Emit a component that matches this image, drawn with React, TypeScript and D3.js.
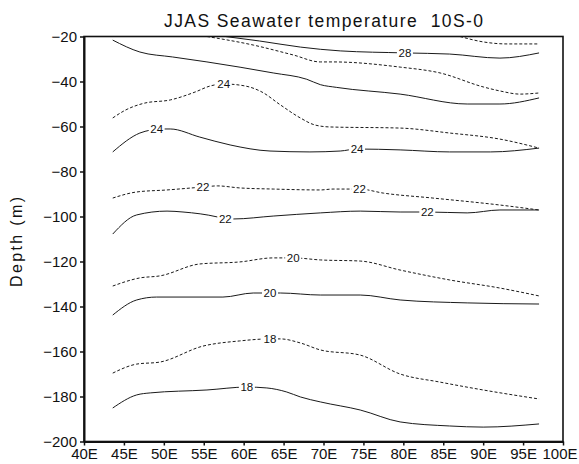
import React, { useEffect, useRef } from "react";
import * as d3 from "d3";

const W = 579;
const H = 464;
const margin = { top: 36.5, right: 16, bottom: 22.5, left: 84 };

const xTicks = [40, 45, 50, 55, 60, 65, 70, 75, 80, 85, 90, 95, 100];
const yTicks = [-20, -40, -60, -80, -100, -120, -140, -160, -180, -200];

// contour lines: [lon, depth]
const solid28: [number, number][] = [
  [57.7, -20], [62.0, -22.0], [67.1, -24.7], [72.1, -26.4], [80.2, -27.3],
  [85.8, -27.8], [92.1, -29.6], [97.0, -27.3],
];
const dashed28: [number, number][] = [
  [87.1, -20], [90.0, -22.4], [93.0, -23.3], [97.0, -23.3],
];
const dashed26: [number, number][] = [
  [55.4, -20], [61.2, -23.8], [66.2, -28.2], [69.6, -31.3], [71.2, -31.3],
  [79.6, -33.6], [84.6, -36.2], [90.0, -42.4], [92.1, -44.2], [94.6, -45.6],
  [97.0, -45.1],
];
const solid26: [number, number][] = [
  [43.6, -21.6], [47.0, -26.9], [51.1, -29.1], [55.4, -31.3], [63.7, -36.2],
  [67.9, -39.0], [69.6, -41.4], [71.6, -42.6], [79.6, -45.6], [88.0, -50.0],
  [92.1, -50.0], [97.0, -47.3],
];
const dashed24: [number, number][] = [
  [43.6, -56.2], [45.2, -52.7], [47.6, -49.6], [50.8, -48.2], [53.9, -44.7],
  [55.8, -42.0], [57.5, -41.1], [60.2, -42.0], [62.3, -44.7], [64.6, -50.4],
  [67.1, -56.2], [68.9, -59.3], [70.8, -60.2], [79.6, -60.7], [85.8, -62.9],
  [92.1, -65.6], [97.0, -69.6],
];
const solid24: [number, number][] = [
  [43.6, -71.3], [47.0, -62.9], [48.3, -61.6], [49.1, -61.1], [50.8, -61.1],
  [54.5, -64.7], [58.3, -68.2], [63.3, -70.9], [68.3, -71.3], [72.1, -70.9],
  [74.2, -70.0], [79.6, -70.4], [85.8, -71.3], [90.9, -71.3], [97.0, -69.6],
];
const dashed22: [number, number][] = [
  [43.6, -91.8], [46.6, -89.1], [50.4, -88.2], [54.9, -86.9], [56.7, -86.4],
  [59.5, -87.3], [63.7, -87.8], [69.6, -88.2], [71.2, -87.8], [74.5, -87.8],
  [77.5, -89.6], [83.7, -91.8], [92.1, -94.9], [97.0, -97.1],
];
const solid22: [number, number][] = [
  [43.6, -107.8], [46.6, -99.3], [50.4, -97.6], [52.4, -98.0], [56.7, -100.2],
  [57.7, -101.1], [58.7, -101.1], [63.7, -99.8], [69.6, -98.4], [74.6, -97.6],
  [79.6, -98.0], [83.0, -98.0], [88.0, -98.4], [92.1, -97.1], [97.0, -97.1],
];
const dashed20: [number, number][] = [
  [43.6, -130.9], [47.0, -127.3], [49.5, -126.4], [54.5, -121.1], [59.5, -120.2],
  [63.7, -118.4], [66.2, -118.4], [69.6, -119.3], [74.6, -119.8], [79.6, -123.8],
  [85.8, -128.2], [92.1, -131.8], [97.0, -135.3],
];
const solid20: [number, number][] = [
  [43.6, -143.8], [46.6, -137.1], [49.1, -135.8], [57.4, -135.8], [61.2, -134.0],
  [63.3, -134.0], [64.6, -134.0], [69.6, -134.9], [74.6, -134.9], [79.6, -137.1],
  [88.0, -138.4], [97.0, -138.9],
];
const dashed18: [number, number][] = [
  [43.6, -169.6], [46.6, -165.6], [49.5, -164.7], [54.9, -157.6], [59.5, -155.3],
  [63.3, -154.4], [64.6, -154.4], [67.1, -156.2], [69.6, -159.3], [74.6, -161.6],
  [79.6, -170.0], [84.6, -173.6], [90.0, -177.1], [97.0, -181.1],
];
const solid18: [number, number][] = [
  [43.6, -185.1], [46.6, -179.3], [48.3, -178.4], [55.4, -177.1], [60.4, -175.8],
  [62.9, -176.2], [65.4, -178.0], [67.1, -180.2], [69.6, -182.4], [74.6, -186.0],
  [79.6, -191.3], [85.8, -193.1], [90.0, -193.6], [97.0, -192.2],
];

// label text and longitude where it sits on each line
const contours = [
  { pts: solid28, dashed: false, text: "28", at: [80.2] },
  { pts: dashed28, dashed: true, text: "28", at: [] },
  { pts: dashed26, dashed: true, text: "26", at: [] },
  { pts: solid26, dashed: false, text: "26", at: [] },
  { pts: dashed24, dashed: true, text: "24", at: [57.5] },
  { pts: solid24, dashed: false, text: "24", at: [49.1, 74.2] },
  { pts: dashed22, dashed: true, text: "22", at: [54.9, 74.5] },
  { pts: solid22, dashed: false, text: "22", at: [57.7, 83.0] },
  { pts: dashed20, dashed: true, text: "20", at: [66.2] },
  { pts: solid20, dashed: false, text: "20", at: [63.3] },
  { pts: dashed18, dashed: true, text: "18", at: [63.3] },
  { pts: solid18, dashed: false, text: "18", at: [60.4] },
];

const FONT = "'Liberation Sans', Arial, Helvetica, sans-serif";

const depthAt = (pts: [number, number][], lon: number) => {
  const lons = pts.map((p) => p[0]);
  const deps = pts.map((p) => p[1]);
  return d3.scaleLinear().domain(lons).range(deps)(lon);
};

export default function App() {
  const svgRef = useRef<SVGSVGElement>(null);

  useEffect(() => {
    const svg = d3.select(svgRef.current);
    svg.selectAll("*").remove();

    const x = d3.scaleLinear().domain([40, 100]).range([margin.left, W - margin.right]);
    const y = d3.scaleLinear().domain([-20, -200]).range([margin.top, H - margin.bottom]);

    svg
      .append("defs")
      .append("clipPath")
      .attr("id", "plot-clip")
      .append("rect")
      .attr("x", x(40))
      .attr("y", y(-20))
      .attr("width", x(100) - x(40))
      .attr("height", y(-200) - y(-20));

    const line = d3
      .line<[number, number]>()
      .x((d) => x(d[0]))
      .y((d) => y(d[1]))
      .curve(d3.curveMonotoneX);

    const plot = svg.append("g").attr("clip-path", "url(#plot-clip)");

    contours.forEach((c) => {
      plot
        .append("path")
        .attr("d", line(c.pts))
        .attr("fill", "none")
        .attr("stroke", "#1a1a1a")
        .attr("stroke-width", 1)
        .attr("stroke-dasharray", c.dashed ? "3,2" : null);
    });

    // contour labels sit in a white gap on the line
    contours.forEach((c) => {
      c.at.forEach((lon) => {
        const cx = x(lon);
        const cy = y(depthAt(c.pts, lon));
        plot
          .append("rect")
          .attr("x", cx - 8)
          .attr("y", cy - 5)
          .attr("width", 16)
          .attr("height", 10)
          .attr("fill", "white");
        plot
          .append("text")
          .attr("x", cx)
          .attr("y", cy + 4)
          .attr("text-anchor", "middle")
          .attr("font-family", FONT)
          .attr("font-size", 11.5)
          .attr("fill", "#111")
          .text(c.text);
      });
    });

    // frame
    svg
      .append("rect")
      .attr("x", x(40))
      .attr("y", y(-20))
      .attr("width", x(100) - x(40))
      .attr("height", y(-200) - y(-20))
      .attr("fill", "none")
      .attr("stroke", "#111")
      .attr("stroke-width", 1.6);

    const xAxis = svg
      .append("g")
      .attr("transform", `translate(0,${y(-200)})`)
      .call(
        d3
          .axisBottom(x)
          .tickValues(xTicks)
          .tickSize(4)
          .tickSizeOuter(0)
          .tickFormat((d) => `${d}E`)
      );

    const yAxis = svg
      .append("g")
      .attr("transform", `translate(${x(40)},0)`)
      .call(d3.axisLeft(y).tickValues(yTicks).tickSize(4).tickSizeOuter(0));

    [xAxis, yAxis].forEach((g) => {
      g.attr("font-family", FONT).attr("font-size", 15);
      g.select(".domain").attr("stroke", "#111").attr("stroke-width", 2);
      g.selectAll(".tick line").attr("stroke", "#111").attr("stroke-width", 1.5);
      g.selectAll(".tick text").attr("fill", "#111");
    });

    // keep the last x label inside the page
    xAxis
      .selectAll<SVGTextElement, number>(".tick text")
      .filter((d) => d === 100)
      .attr("text-anchor", "end")
      .attr("dx", W - 2 - x(100));

    svg
      .append("text")
      .attr("x", (x(40) + x(100)) / 2)
      .attr("y", 26.5)
      .attr("text-anchor", "middle")
      .attr("font-family", FONT)
      .attr("font-size", 17.5)
      .attr("textLength", 319)
      .attr("lengthAdjust", "spacing")
      .style("white-space", "pre")
      .attr("fill", "#111")
      .text("JJAS Seawater temperature  10S-0");

    svg
      .append("text")
      .attr("transform", `translate(22,242) rotate(-90)`)
      .attr("text-anchor", "middle")
      .attr("font-family", FONT)
      .attr("font-size", 16)
      .attr("textLength", 90)
      .attr("lengthAdjust", "spacing")
      .attr("fill", "#111")
      .text("Depth (m)");
  }, []);

  return (
    <svg
      ref={svgRef}
      width={W}
      height={H}
      style={{ position: "absolute", left: 0, top: 0, background: "white" }}
    ></svg>
  );
}
